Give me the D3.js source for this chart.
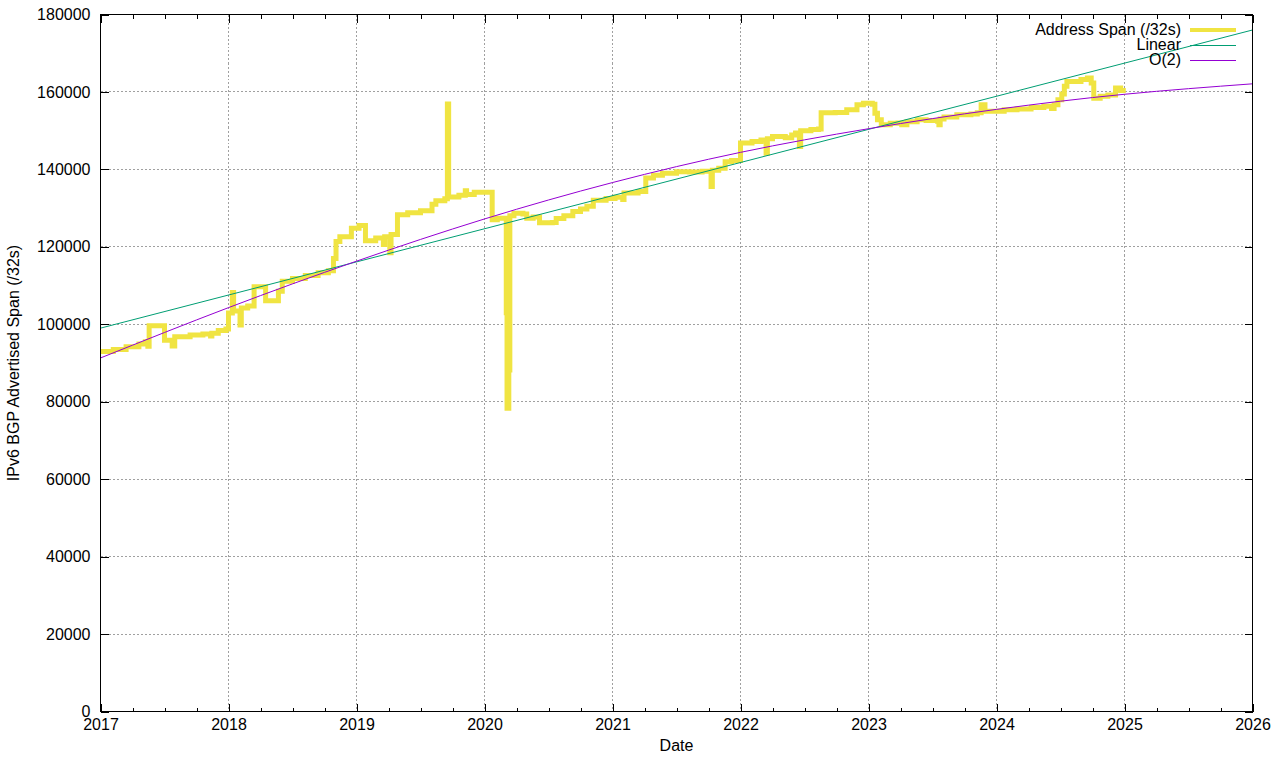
<!DOCTYPE html>
<html>
<head>
<meta charset="utf-8">
<script src="https://cdn.jsdelivr.net/npm/d3@7"></script>
<style>
body { margin: 0; background: #fff; }
text { font-family: "Liberation Sans", Arial, sans-serif; font-size: 16px; fill: #000; }
</style>
</head>
<body>
<svg></svg>
<script>
// data: [decimal year, /32s]
var addressSpan = [
	[2017.00, 93000], [2017.10, 93500], [2017.20, 94200], [2017.30, 94900], [2017.35, 95500],
	[2017.37, 94300], [2017.38, 99600], [2017.50, 95900], [2017.56, 94400], [2017.58, 96800],
	[2017.70, 97200], [2017.80, 97500], [2017.86, 97000], [2017.87, 97700], [2017.92, 98400],
	[2017.98, 98800], [2018.00, 102900], [2018.03, 108200], [2018.04, 103400], [2018.09, 99800],
	[2018.10, 104200], [2018.15, 104700], [2018.20, 109700], [2018.29, 106100], [2018.39, 108500],
	[2018.42, 111100], [2018.50, 111800], [2018.60, 112600], [2018.70, 113300], [2018.78, 113800],
	[2018.82, 117000], [2018.84, 121400], [2018.87, 122600], [2018.96, 124800], [2019.02, 125500],
	[2019.07, 121600], [2019.15, 122300], [2019.21, 120600], [2019.22, 122600], [2019.26, 118500],
	[2019.27, 123200], [2019.32, 128300], [2019.40, 128800], [2019.50, 129300], [2019.59, 131000],
	[2019.62, 131900], [2019.69, 132400], [2019.71, 156900], [2019.72, 132900], [2019.80, 133300],
	[2019.85, 134500], [2019.86, 133500], [2019.92, 134100], [2020.06, 127000], [2020.10, 127400],
	[2020.170, 103000], [2020.176, 78300], [2020.190, 88200], [2020.198, 128000], [2020.23, 128700],
	[2020.30, 128500], [2020.33, 127400], [2020.38, 127700], [2020.43, 126200], [2020.53, 126300],
	[2020.56, 127300], [2020.62, 128000], [2020.69, 129100], [2020.75, 129800], [2020.80, 130500],
	[2020.85, 132000], [2020.95, 132500], [2021.02, 132800], [2021.08, 132200], [2021.09, 133900],
	[2021.20, 134300], [2021.26, 137800], [2021.32, 138500], [2021.39, 139000], [2021.50, 139400],
	[2021.60, 139300], [2021.70, 139500], [2021.77, 135600], [2021.78, 139800], [2021.83, 140300],
	[2021.88, 142000], [2021.93, 142300], [2022.00, 146800], [2022.09, 147200], [2022.16, 147600],
	[2022.20, 144200], [2022.21, 147900], [2022.25, 148500], [2022.35, 148200], [2022.40, 148900],
	[2022.43, 149400], [2022.46, 145900], [2022.47, 150000], [2022.55, 150300], [2022.61, 150400],
	[2022.63, 154600], [2022.74, 154700], [2022.83, 155400], [2022.91, 156700], [2022.96, 157100],
	[2023.03, 156800], [2023.05, 154500], [2023.07, 152800], [2023.10, 151500], [2023.17, 151900],
	[2023.23, 152000], [2023.26, 151500], [2023.30, 152300], [2023.38, 152800], [2023.45, 152600],
	[2023.54, 152400], [2023.55, 151500], [2023.56, 153000], [2023.59, 153500], [2023.69, 154100],
	[2023.80, 154300], [2023.85, 154600], [2023.88, 156700], [2023.91, 155000], [2024.06, 155400],
	[2024.16, 155600], [2024.27, 156000], [2024.37, 156300], [2024.43, 155700], [2024.45, 156700],
	[2024.48, 158000], [2024.51, 159500], [2024.53, 161500], [2024.55, 162700], [2024.66, 163200],
	[2024.71, 163600], [2024.74, 162300], [2024.76, 158400], [2024.81, 158900], [2024.87, 159200],
	[2024.93, 161000], [2024.97, 160400], [2025.01, 160400]
];

var linearFit = [[2017, 99000], [2026, 176000]];

var quadFit = [
	[2017, 91300], [2018, 104300], [2019, 116300], [2020, 127200], [2021, 136600],
	[2022, 144400], [2023, 150500], [2024, 155500], [2025, 159400], [2026, 162100]
];

var yearTicks = d3.range(2017, 2027);
var valueTicks = d3.range(0, 180001, 20000);
var legendNames = ["Address Span (/32s)", "Linear", "O(2)"];
var legendColors = ["#f0e442", "#009e73", "#9400d3"];
var legendWidths = [4, 1, 1];

var width = 1280;
var height = 760;
var plotLeft = 100.5, plotRight = 1252.5, plotTop = 14.5, plotBottom = 711.5;

var svg = d3.select('svg')
	.attr('width', width)
	.attr('height', height);

var xScale = d3.scaleLinear().domain([2017, 2026]).range([plotLeft, plotRight]);
var yScale = d3.scaleLinear().domain([0, 180000]).range([plotBottom, plotTop]);

var snap = v => Math.round(v - 0.5) + 0.5;

// grid
var grid = svg.append('g')
	.attr('stroke', '#a0a0a0')
	.attr('stroke-dasharray', '2,2')
	.attr('shape-rendering', 'crispEdges');

grid.selectAll('.gx')
	.data(yearTicks.slice(1, -1))
	.enter().append('line')
	.attr('x1', d => snap(xScale(d)))
	.attr('x2', d => snap(xScale(d)))
	.attr('y1', plotTop)
	.attr('y2', plotBottom);

grid.selectAll('.gy')
	.data(valueTicks.slice(1, -1))
	.enter().append('line')
	.attr('x1', plotLeft)
	.attr('x2', plotRight)
	.attr('y1', d => snap(yScale(d)))
	.attr('y2', d => snap(yScale(d)));

// data lines
svg.append('path')
	.datum(addressSpan)
	.attr('d', d3.line().x(d => xScale(d[0])).y(d => yScale(d[1])).curve(d3.curveStepAfter))
	.attr('fill', 'none')
	.attr('stroke', legendColors[0])
	.attr('stroke-width', 5)
	.attr('stroke-linejoin', 'miter');

svg.append('path')
	.datum(linearFit)
	.attr('d', d3.line().x(d => xScale(d[0])).y(d => yScale(d[1])))
	.attr('fill', 'none')
	.attr('stroke', legendColors[1])
	.attr('stroke-width', 1);

svg.append('path')
	.datum(quadFit)
	.attr('d', d3.line().x(d => xScale(d[0])).y(d => yScale(d[1])).curve(d3.curveNatural))
	.attr('fill', 'none')
	.attr('stroke', legendColors[2])
	.attr('stroke-width', 1);

// axes, ticks pointing inward like gnuplot
var quarters = d3.range(2017, 2026.01, 0.25).filter(d => d % 1 !== 0);

function styleAxis(g) {
	g.select('.domain').remove();
	g.selectAll('line').attr('shape-rendering', 'crispEdges');
	g.selectAll('text').attr('font-size', null).attr('font-family', null);
}

svg.append('g')
	.attr('transform', 'translate(0,' + plotBottom + ')')
	.call(d3.axisBottom(xScale).tickValues(yearTicks).tickSize(-8).tickPadding(7).tickFormat(d3.format('d')))
	.call(styleAxis);

svg.append('g')
	.attr('transform', 'translate(0,' + plotBottom + ')')
	.call(d3.axisBottom(xScale).tickValues(quarters).tickSize(-4).tickFormat(''))
	.call(styleAxis);

svg.append('g')
	.attr('transform', 'translate(0,' + plotTop + ')')
	.call(d3.axisTop(xScale).tickValues(yearTicks).tickSize(-8).tickFormat(''))
	.call(styleAxis);

svg.append('g')
	.attr('transform', 'translate(0,' + plotTop + ')')
	.call(d3.axisTop(xScale).tickValues(quarters).tickSize(-4).tickFormat(''))
	.call(styleAxis);

svg.append('g')
	.attr('transform', 'translate(' + plotLeft + ',0)')
	.call(d3.axisLeft(yScale).tickValues(valueTicks).tickSize(-8).tickPadding(10).tickFormat(d3.format('d')))
	.call(styleAxis);

svg.append('g')
	.attr('transform', 'translate(' + plotRight + ',0)')
	.call(d3.axisRight(yScale).tickValues(valueTicks).tickSize(-8).tickFormat(''))
	.call(styleAxis);

// border
svg.append('rect')
	.attr('x', plotLeft)
	.attr('y', plotTop)
	.attr('width', plotRight - plotLeft)
	.attr('height', plotBottom - plotTop)
	.attr('fill', 'none')
	.attr('stroke', '#000')
	.attr('shape-rendering', 'crispEdges');

// labels
svg.append('text')
	.attr('x', (plotLeft + plotRight) / 2)
	.attr('y', 751)
	.attr('text-anchor', 'middle')
	.text('Date');

svg.append('text')
	.attr('transform', 'translate(19,' + ((plotTop + plotBottom) / 2) + ') rotate(-90)')
	.attr('text-anchor', 'middle')
	.text('IPv6 BGP Advertised Span (/32s)');

// legend
var legend = svg.selectAll('.legend')
	.data(legendNames)
	.enter().append('g')
	.attr('transform', (d, i) => 'translate(0,' + (30 + i * 15) + ')');

legend.append('text')
	.attr('x', 1181)
	.attr('y', 4.5)
	.attr('text-anchor', 'end')
	.text(d => d);

legend.append('line')
	.attr('x1', 1190)
	.attr('x2', 1236)
	.attr('y1', (d, i) => legendWidths[i] === 1 ? 0.5 : 0)
	.attr('y2', (d, i) => legendWidths[i] === 1 ? 0.5 : 0)
	.attr('stroke', (d, i) => legendColors[i])
	.attr('stroke-width', (d, i) => legendWidths[i]);
</script>
</body>
</html>
